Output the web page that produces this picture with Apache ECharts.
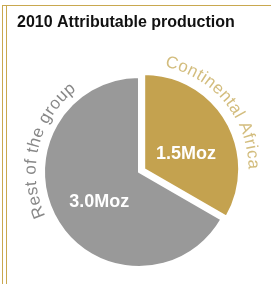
<!DOCTYPE html>
<html>
<head>
<meta charset="utf-8">
<script src="https://cdn.jsdelivr.net/npm/echarts@6/dist/echarts.min.js"></script>
<style>
html,body{margin:0;padding:0;background:#fff;}
#chart{width:271px;height:284px;}
</style>
</head>
<body>
<div id="chart"></div>
<script>
var title = '2010 Attributable production';
var categories = ['Continental Africa', 'Rest of the group'];
var values = [1.5, 3.0];
var unit = 'Moz';
var sliceColors = ['#c4a24f', '#999999'];
var curveColors = ['#d3bd7e', '#888888'];

var CX = 139, CY = 172, R = 95, OFFSET = 6;
var chart = echarts.init(document.getElementById('chart'), null, {renderer: 'canvas'});

var measureCtx = document.createElement('canvas').getContext('2d');
function arcText(text, cx, cy, r, startDeg, endDeg, fontSize, color) {
  var font = fontSize + 'px "Liberation Sans", Arial, sans-serif';
  measureCtx.font = font;
  var chars = text.split('');
  var widths = chars.map(function (c) { return measureCtx.measureText(c).width; });
  var total = widths.reduce(function (a, b) { return a + b; }, 0);
  var arcLen = r * (endDeg - startDeg) * Math.PI / 180;
  var extra = (arcLen - total) / (chars.length - 1);
  var out = [];
  var acc = 0;
  for (var i = 0; i < chars.length; i++) {
    var s = acc + widths[i] / 2 + i * extra;
    acc += widths[i];
    var th = startDeg * Math.PI / 180 + s / r;
    out.push({
      type: 'text',
      x: cx + r * Math.sin(th),
      y: cy - r * Math.cos(th),
      rotation: -th,
      silent: true,
      style: {
        text: chars[i],
        font: font,
        fill: color,
        align: 'center',
        verticalAlign: 'middle'
      }
    });
  }
  return out;
}

var mid0 = (values[0] / (values[0] + values[1])) * Math.PI;
var goldCX = CX + OFFSET * Math.sin(mid0), goldCY = CY - OFFSET * Math.cos(mid0);

var graphics = [
  {type: 'line', shape: {x1: 2, y1: 5.5, x2: 271, y2: 5.5}, style: {stroke: '#c9a84f', lineWidth: 1}},
  {type: 'line', shape: {x1: 2.5, y1: 5, x2: 2.5, y2: 284}, style: {stroke: '#c9a84f', lineWidth: 1}},
  {type: 'line', shape: {x1: 6.5, y1: 5, x2: 6.5, y2: 284}, style: {stroke: '#c9a84f', lineWidth: 1}}
];
graphics = graphics.concat(arcText(categories[0], goldCX, goldCY, 109, 11.5, 90, 17, curveColors[0]));
graphics = graphics.concat(arcText(categories[1], CX, CY, 108, 245, 322.5, 17, curveColors[1]));

var option = {
  animation: false,
  title: {
    text: title,
    left: 12,
    top: 10,
    textStyle: {fontFamily: '"Liberation Sans", Arial, sans-serif', fontSize: 16, fontWeight: 'bold', color: '#111'}
  },
  graphic: graphics,
  series: [{
    type: 'pie',
    center: [CX, CY],
    radius: R,
    startAngle: 90,
    clockwise: true,
    selectedMode: 'single',
    selectedOffset: OFFSET,
    silent: true,
    itemStyle: {borderColor: '#fff', borderWidth: 2},
    label: {
      show: true,
      position: 'inside',
      formatter: function (p) { return p.value.toFixed(1) + unit; },
      color: '#fff',
      fontFamily: '"Liberation Sans", Arial, sans-serif',
      fontSize: 18,
      fontWeight: 'bold'
    },
    labelLine: {show: false},
    labelLayout: function (p) {
      return p.dataIndex === 0 ? {dx: -2, dy: 10} : {dx: 4, dy: 5};
    },
    emphasis: {disabled: true},
    data: categories.map(function (c, i) {
      return {name: c, value: values[i], selected: i === 0, itemStyle: {color: sliceColors[i]}};
    })
  }]
};
chart.setOption(option);
</script>
</body>
</html>
